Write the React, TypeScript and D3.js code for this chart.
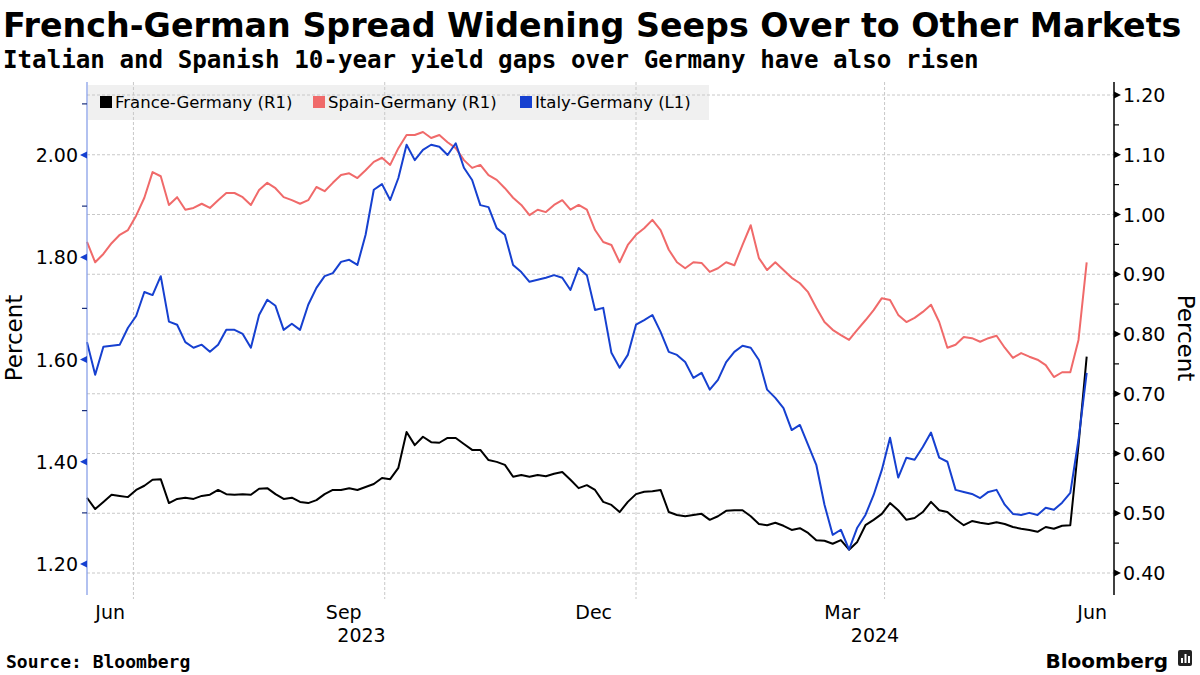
import React from "react";
import * as d3 from "d3";

// ---- data (3-day sampling, 14 Jun 2023 → 14 Jun 2024) ----
const startDate = "2023-06-14";
const endDate = "2024-06-15";
const stepDays = 3;

const franceGermany = [
  0.526, 0.507, 0.519, 0.531, 0.529, 0.527, 0.539, 0.546, 0.556, 0.557,
  0.517, 0.524, 0.526, 0.524, 0.529, 0.531, 0.539, 0.532, 0.531, 0.532,
  0.531, 0.541, 0.542, 0.532, 0.524, 0.526, 0.519, 0.517, 0.522, 0.532,
  0.539, 0.539, 0.542, 0.539, 0.544, 0.549, 0.559, 0.557, 0.576, 0.636,
  0.614, 0.628, 0.619, 0.618, 0.626, 0.626, 0.616, 0.606, 0.606, 0.589,
  0.586, 0.581, 0.561, 0.564, 0.561, 0.564, 0.562, 0.566, 0.569, 0.556,
  0.542, 0.547, 0.539, 0.519, 0.514, 0.502, 0.519, 0.532, 0.536, 0.537,
  0.539, 0.502, 0.497, 0.495, 0.497, 0.499, 0.489, 0.495, 0.504, 0.505,
  0.505, 0.495, 0.482, 0.480, 0.484, 0.479, 0.472, 0.475, 0.467, 0.455,
  0.454, 0.449, 0.455, 0.439, 0.452, 0.480, 0.489, 0.499, 0.517, 0.505,
  0.489, 0.492, 0.502, 0.519, 0.505, 0.502, 0.490, 0.480, 0.487, 0.484,
  0.482, 0.485, 0.482, 0.477, 0.474, 0.472, 0.469, 0.477, 0.474, 0.479,
  0.480, 0.614, 0.762,
];

const spainGermany = [
  0.954, 0.920, 0.934, 0.952, 0.966, 0.974, 0.998, 1.028, 1.071, 1.064,
  1.016, 1.029, 1.008, 1.011, 1.018, 1.011, 1.024, 1.036, 1.036, 1.029,
  1.016, 1.041, 1.053, 1.044, 1.029, 1.024, 1.018, 1.024, 1.046, 1.039,
  1.053, 1.066, 1.069, 1.061, 1.074, 1.088, 1.095, 1.083, 1.111, 1.133,
  1.133, 1.138, 1.128, 1.133, 1.121, 1.111, 1.091, 1.078, 1.083, 1.066,
  1.058, 1.044, 1.028, 1.016, 0.999, 1.008, 1.004, 1.016, 1.024, 1.008,
  1.016, 1.008, 0.974, 0.954, 0.949, 0.920, 0.949, 0.966, 0.977, 0.991,
  0.974, 0.941, 0.920, 0.910, 0.920, 0.919, 0.904, 0.910, 0.920, 0.915,
  0.949, 0.982, 0.927, 0.907, 0.920, 0.907, 0.894, 0.885, 0.870, 0.844,
  0.820, 0.807, 0.798, 0.790, 0.807, 0.823, 0.840, 0.860, 0.857, 0.832,
  0.820, 0.827, 0.837, 0.849, 0.820, 0.777, 0.782, 0.795, 0.793, 0.787,
  0.793, 0.797, 0.777, 0.760, 0.768, 0.762, 0.757, 0.748, 0.728, 0.736,
  0.736, 0.790, 0.920,
];

const italyGermany = [
  1.634, 1.570, 1.625, 1.627, 1.629, 1.662, 1.685, 1.732, 1.726, 1.763,
  1.674, 1.668, 1.634, 1.623, 1.629, 1.615, 1.629, 1.658, 1.658, 1.650,
  1.623, 1.687, 1.717, 1.705, 1.658, 1.670, 1.658, 1.707, 1.740, 1.763,
  1.769, 1.791, 1.795, 1.785, 1.844, 1.932, 1.943, 1.912, 1.955, 2.020,
  1.990, 2.010, 2.020, 2.016, 2.000, 2.023, 1.975, 1.951, 1.902, 1.898,
  1.857, 1.844, 1.785, 1.771, 1.752, 1.756, 1.760, 1.765, 1.760, 1.736,
  1.779, 1.765, 1.697, 1.701, 1.613, 1.584, 1.609, 1.668, 1.677, 1.687,
  1.654, 1.615, 1.609, 1.595, 1.564, 1.574, 1.541, 1.560, 1.595, 1.615,
  1.627, 1.623, 1.599, 1.541, 1.525, 1.505, 1.462, 1.472, 1.433, 1.394,
  1.316, 1.257, 1.267, 1.228, 1.271, 1.296, 1.335, 1.384, 1.447, 1.369,
  1.408, 1.404, 1.429, 1.457, 1.408, 1.400, 1.345, 1.341, 1.337, 1.329,
  1.341, 1.345, 1.316, 1.298, 1.296, 1.300, 1.296, 1.310, 1.306, 1.320,
  1.339, 1.443, 1.574,
];

const leftTicks = [1.2, 1.4, 1.6, 1.8, 2.0];
const leftMinorTicks = [1.3, 1.5, 1.7, 1.9, 2.1];
const rightTicks = [0.4, 0.5, 0.6, 0.7, 0.8, 0.9, 1.0, 1.1, 1.2];
const rightMinorTicks = [0.45, 0.55, 0.65, 0.75, 0.85, 0.95, 1.05, 1.15];
const monthLabels = [
  { label: "Jun", month: "2023-06-01" },
  { label: "Sep", month: "2023-09-01" },
  { label: "Dec", month: "2023-12-01" },
  { label: "Mar", month: "2024-03-01" },
  { label: "Jun", month: "2024-06-01" },
];
const yearLabels = ["2023", "2024"];

const seriesNames = ["France-Germany (R1)", "Spain-Germany (R1)", "Italy-Germany (L1)"];
const seriesColors = ["#000000", "#f06a6a", "#1640d0"];

const title = "French-German Spread Widening Seeps Over to Other Markets";
const subtitle = "Italian and Spanish 10-year yield gaps over Germany have also risen";

// ---- layout ----
const W = 1200;
const H = 675;
const PL = 87;
const PR = 1114;
const PT = 82;
const PB = 595;

const parse = d3.timeParse("%Y-%m-%d");

export default function App() {
  const dates = d3.timeDay.range(parse(startDate)!, parse(endDate)!, stepDays);

  const x = d3
    .scaleTime()
    .domain([parse("2023-06-14")!, parse("2024-06-24")!])
    .range([PL, PR]);
  const yL = d3.scaleLinear().domain([1.2, 2.0]).range([564, 155]);
  const yR = d3.scaleLinear().domain([0.4, 1.2]).range([573, 95]);

  const mkLine = (vals: number[], y: d3.ScaleLinear<number, number>) =>
    d3
      .line<number>()
      .x((_, i) => x(dates[i]))
      .y((v) => y(v))(vals.slice(0, dates.length)) || "";

  const [d0, d1] = x.domain();
  const quarterLines = d3.timeMonth.every(3)!.range(d0, d1);

  const fontSans = "'DejaVu Sans', Verdana, sans-serif";
  const fontMono = "'DejaVu Sans Mono', monospace";

  return (
    <svg
      width={W}
      height={H}
      style={{ position: "absolute", left: 0, top: 0, background: "#fff" }}
      fontFamily={fontSans}
    >
      <rect x={0} y={0} width={W} height={H} fill="#fff" />
      {/* titles */}
      <text x={3} y={37} fontSize={33.3} fontWeight="bold" fill="#000">
        {title}
      </text>
      <text x={3} y={68} fontSize={24.2} fontWeight="bold" fontFamily={fontMono} fill="#000">
        {subtitle}
      </text>

      {/* legend background */}
      <rect x={PL + 1} y={85} width={621} height={35} fill="#f0f0f0" />

      {/* horizontal gridlines (right axis) */}
      {rightTicks.map((t) => (
        <line
          key={"hg" + t}
          x1={PL}
          x2={PR}
          y1={yR(t)}
          y2={yR(t)}
          stroke="#c8c8c8"
          strokeWidth={1}
          strokeDasharray="3,2"
        />
      ))}
      {/* vertical quarter gridlines */}
      {quarterLines.map((d) => (
        <line
          key={"vg" + d.getTime()}
          x1={x(d)}
          x2={x(d)}
          y1={PT}
          y2={PB + 4}
          stroke="#c8c8c8"
          strokeWidth={1}
          strokeDasharray="3,2"
        />
      ))}

      {/* legend */}
      {seriesNames.map((n, i) => {
        const lx = [100, 313, 520][i];
        return (
          <g key={n}>
            <rect x={lx} y={96} width={12} height={12} fill={seriesColors[i]} />
            <text x={lx + 15} y={108} fontSize={16.5} fill="#000">
              {n}
            </text>
          </g>
        );
      })}

      {/* series */}
      <path d={mkLine(franceGermany, yR)} fill="none" stroke={seriesColors[0]} strokeWidth={2} strokeLinejoin="round" />
      <path d={mkLine(spainGermany, yR)} fill="none" stroke={seriesColors[1]} strokeWidth={2} strokeLinejoin="round" />
      <path d={mkLine(italyGermany, yL)} fill="none" stroke={seriesColors[2]} strokeWidth={2} strokeLinejoin="round" />

      {/* left axis */}
      <line x1={PL} x2={PL} y1={PT} y2={PB} stroke="#7f98e6" strokeWidth={1.2} />
      {leftTicks.map((t) => (
        <g key={"lt" + t}>
          <path d={`M${PL},${yL(t) - 3.5}L${PL - 7},${yL(t)}L${PL},${yL(t) + 3.5}Z`} fill="#1640d0" />
          <text x={PL - 9} y={yL(t) + 7} fontSize={19} textAnchor="end" fill="#000">
            {t.toFixed(2)}
          </text>
        </g>
      ))}
      {leftMinorTicks.map((t) => (
        <line key={"lm" + t} x1={PL - 5} x2={PL} y1={yL(t)} y2={yL(t)} stroke="#1a2f7a" strokeWidth={1.2} />
      ))}
      <text
        transform={`translate(22,338) rotate(-90)`}
        fontSize={23}
        textAnchor="middle"
        fill="#000"
      >
        Percent
      </text>

      {/* right axis */}
      <line x1={PR} x2={PR} y1={PT} y2={PB} stroke="#000" strokeWidth={1.5} />
      {rightTicks.map((t) => (
        <g key={"rt" + t}>
          <path d={`M${PR},${yR(t) - 3.5}L${PR + 7},${yR(t)}L${PR},${yR(t) + 3.5}Z`} fill="#000" />
          <text x={PR + 9} y={yR(t) + 7} fontSize={19} fill="#000">
            {t.toFixed(2)}
          </text>
        </g>
      ))}
      {rightMinorTicks.map((t) => (
        <line key={"rm" + t} x1={PR} x2={PR + 5} y1={yR(t)} y2={yR(t)} stroke="#000" strokeWidth={1.2} />
      ))}
      <text
        transform={`translate(1178,338) rotate(90)`}
        fontSize={23}
        textAnchor="middle"
        fill="#000"
      >
        Percent
      </text>

      {/* x labels */}
      {monthLabels.map((m) => {
        const ms = parse(m.month)!;
        const me = d3.timeMonth.offset(ms, 1);
        const cx = (x(ms < d0 ? d0 : ms) + x(me)) / 2;
        return (
          <text key={m.month} x={cx} y={619} fontSize={19} textAnchor="middle" fill="#000">
            {m.label}
          </text>
        );
      })}
      {yearLabels.map((yStr) => {
        const ys = parse(yStr + "-01-01")!;
        const ye = parse(+yStr + 1 + "-01-01")!;
        const a = x(ys < d0 ? d0 : ys);
        const b = x(ye > d1 ? d1 : ye);
        return (
          <text key={yStr} x={(a + b) / 2} y={642} fontSize={19} textAnchor="middle" fill="#000">
            {yStr}
          </text>
        );
      })}

      {/* footer */}
      <text x={6} y={668} fontSize={18} fontWeight="bold" fontFamily={fontMono} fill="#000">
        Source: Bloomberg
      </text>
      <text x={1168} y={668} fontSize={20} fontWeight="bold" textAnchor="end" fill="#000">
        Bloomberg
      </text>
      <g>
        <rect x={1178} y={650} width={14} height={16} rx={2} fill="#222" />
        <rect x={1181} y={658} width={2} height={5} fill="#fff" />
        <rect x={1184.5} y={654} width={2} height={9} fill="#fff" />
        <rect x={1188} y={656} width={2} height={7} fill="#fff" />
      </g>
    </svg>
  );
}
